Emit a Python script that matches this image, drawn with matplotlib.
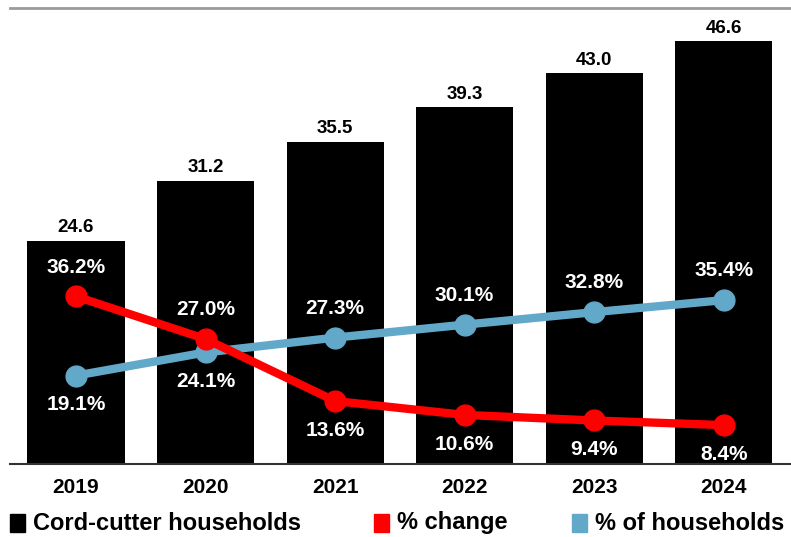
import numpy as np
import matplotlib.pyplot as plt
from matplotlib.patches import Rectangle

# donnees
annees = ['2019', '2020', '2021', '2022', '2023', '2024']
foyers = [24.6, 31.2, 35.5, 39.3, 43.0, 46.6]
variation = [36.2, 27.0, 13.6, 10.6, 9.4, 8.4]
part_foyers = [19.1, 24.1, 27.3, 30.1, 32.8, 35.4]

# position des etiquettes : 1 = au-dessus, -1 = en dessous
pos_variation = [1, 1, -1, -1, -1, -1]
pos_part = [-1, -1, 1, 1, 1, 1]

rouge = '#ff0000'
bleu = '#62a8c9'
police = 'Liberation Sans'

W, H = 791, 537
fig = plt.figure(figsize=(W / 100, H / 100), dpi=100)
ax = fig.add_axes([10 / W, 1 - 464 / H, 1 - 10 / W, 456 / H])
x = np.arange(len(annees))

ax.bar(x, foyers, width=0.75, color='black', zorder=1)
for xi, v in zip(x, foyers):
    ax.annotate(f'{v:.1f}', (xi, v), xytext=(0, 3), textcoords='offset points',
                ha='center', va='bottom', fontsize=13.5, fontweight='bold', family=police)

ax.set_xlim(-0.51, 5.52)
ax.set_ylim(0, 50.2)
ax.set_yticks([])
ax.set_xticks(x)
ax.set_xticklabels(annees, fontsize=15, fontweight='bold', family=police)
ax.tick_params(axis='x', length=0, pad=10)
for s in ['left', 'right']:
    ax.spines[s].set_visible(False)
ax.spines['top'].set_color('#9a9a9a')
ax.spines['top'].set_linewidth(2)
ax.spines['bottom'].set_color('#333333')
ax.spines['bottom'].set_linewidth(1.5)

ax2 = ax.twinx()
ax2.set_ylim(0, 98.5)
ax2.set_yticks([])
for s in ax2.spines.values():
    s.set_visible(False)

ax2.plot(x, part_foyers, color=bleu, lw=6, marker='o', ms=15, zorder=3)
ax2.plot(x, variation, color=rouge, lw=6, marker='o', ms=15, zorder=4)

for serie, pos in [(variation, pos_variation), (part_foyers, pos_part)]:
    for xi, v, p in zip(x, serie, pos):
        ax2.annotate(f'{v:.1f}%', (xi, v), xytext=(0, 21 * p), textcoords='offset points',
                     ha='center', va='center', color='white',
                     fontsize=15, fontweight='bold', family=police, zorder=5)

# legende faite a la main
legende = [('black', 'Cord-cutter households', 10), (rouge, '% change', 374),
           (bleu, '% of households', 572)]
for couleur, texte, px in legende:
    fig.patches.append(Rectangle((px / W, 1 - 532 / H), 15 / W, 18 / H, color=couleur,
                                 transform=fig.transFigure, figure=fig))
    fig.text((px + 23) / W, 1 - 523 / H, texte, ha='left', va='center', fontsize=17,
             fontweight='bold', family=police)

fig.savefig('out.png', dpi=100)
